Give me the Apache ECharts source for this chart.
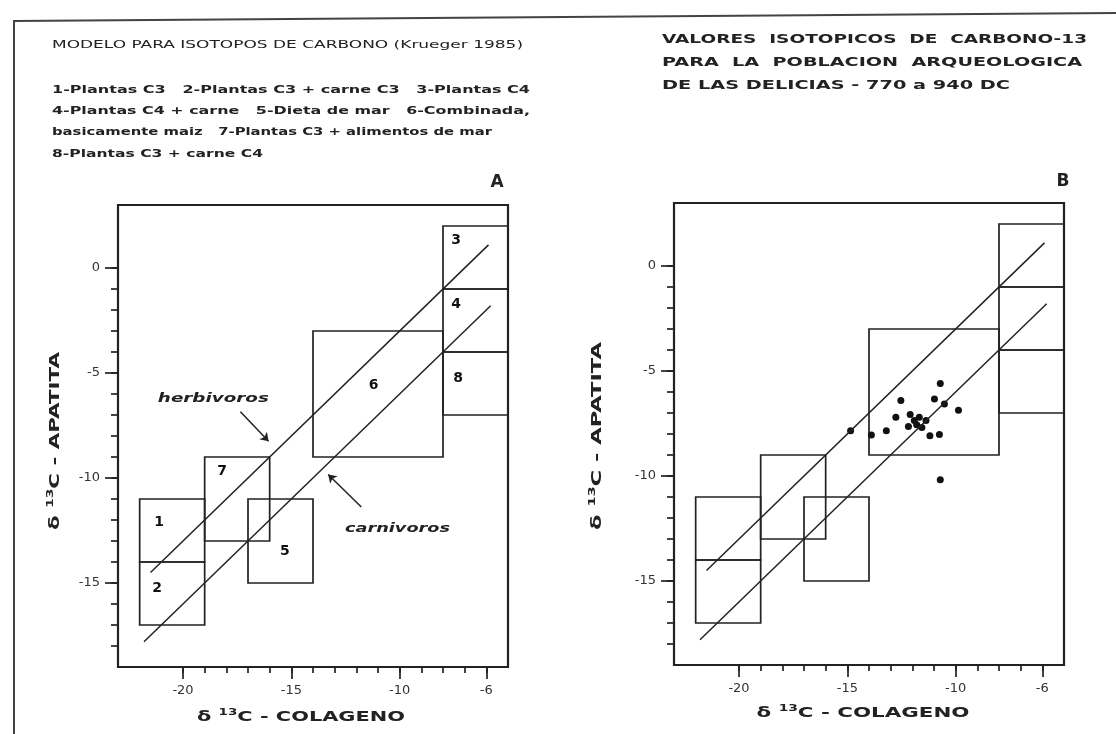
<!DOCTYPE html>
<html lang="es">
<head>
<meta charset="UTF-8">
<title>Isotopos de carbono</title>
<style>html,body{margin:0;padding:0;background:#fff}</style>
</head>
<body>
<div id="main" style="width:1116px;height:734px"></div>
<script src="https://cdn.jsdelivr.net/npm/echarts@6/dist/echarts.min.js"></script>
<script>
// model regions (Krueger 1985)
var boxNames = ['1', '2', '3', '4', '5', '6', '7', '8'];
var boxXMin = [-22, -22, -8, -8, -17, -14, -19, -8];
var boxXMax = [-19, -19, -5, -5, -14, -8, -16, -5];
var boxYMin = [-14, -17, -1, -4, -15, -9, -13, -7];
var boxYMax = [-11, -14, 2, -1, -11, -3, -9, -4];
var boxLabelX = [-21.1, -21.2, -7.4, -7.4, -15.3, -11.2, -18.2, -7.3];
var boxLabelY = [-12.1, -15.25, 1.3, -1.75, -13.5, -5.6, -9.7, -5.25];

// diet lines
var herbX = [-21.5, -5.9];
var herbY = [-14.5, 1.1];
var carnX = [-21.8, -5.8];
var carnY = [-17.8, -1.8];

// notes + arrows (panel A)
var noteText = ['herbivoros', 'carnivoros'];
var noteX = [-18.6, -10.1];
var noteY = [-6.25, -12.4];
var arrowFromX = [-17.35, -11.77];
var arrowFromY = [-6.85, -11.38];
var arrowToX = [-16.05, -13.3];
var arrowToY = [-8.25, -9.83];

// Las Delicias samples (panel B)
var colageno = [-14.85, -13.89, -13.2, -12.76, -12.53, -12.1, -12.18, -11.91, -11.8, -11.68,
    -11.56, -11.37, -11.19, -10.98, -10.75, -10.71, -10.52, -9.87, -10.71];
var apatita = [-7.85, -8.05, -7.84, -7.2, -6.41, -7.07, -7.64, -7.36, -7.56, -7.2,
    -7.69, -7.36, -8.08, -6.33, -8.02, -5.59, -6.57, -6.87, -10.18];

// header texts
var titleA = 'MODELO PARA ISOTOPOS DE CARBONO (Krueger 1985)';
var legendLines = [
    '1-Plantas C3   2-Plantas C3 + carne C3   3-Plantas C4',
    '4-Plantas C4 + carne   5-Dieta de mar   6-Combinada,',
    'basicamente maiz   7-Plantas C3 + alimentos de mar',
    '8-Plantas C3 + carne C4'
];
var titleB = [
    'VALORES  ISOTOPICOS  DE  CARBONO-13',
    'PARA  LA  POBLACION  ARQUEOLOGICA',
    'DE LAS DELICIAS - 770 a 940 DC'
];

var ink = '#222';
var myChart = echarts.init(document.getElementById('main'));

// frame extents and tick ranges
var xMin = -23, xMax = -5, yMin = -19, yMax = 3;
var majorX = [-20, -6, 5], majorY = [-15, 0, 5];
var minorX = [-20, -6, 1], minorY = [-18, 0, 1];
var plotW = 390, plotH = 462;
var panels = [{left: 118, top: 205}, {left: 674, top: 203}];
var kx = plotW / (xMax - xMin), ky = plotH / (yMax - yMin);

var measure = document.createElement('canvas').getContext('2d');
function textWidth(str, font) {
    measure.font = font;
    return measure.measureText(str).width;
}
function stretched(str, x, y, width, font, extra) {
    var el = {
        type: 'text', x: x, y: y, scaleX: width / textWidth(str, font),
        style: {text: str, font: font, fill: ink, align: 'left', verticalAlign: 'middle'}
    };
    return Object.assign(el, extra || {});
}
// δ 13C - ... with a small raised 13
function isoTitle(rest, x, y, width, rotate) {
    var big = 'bold 14px "DejaVu Sans"', small = 'bold 9px "DejaVu Sans"';
    var w = textWidth('δ ', big) + textWidth('13', small) + textWidth('C - ' + rest, big);
    return {
        type: 'text', x: x, y: y, rotation: rotate ? Math.PI / 2 : 0, scaleX: width / w,
        style: {
            text: '{a|δ }{s|13}{a|C - ' + rest + '}',
            align: 'center', verticalAlign: 'middle', fill: ink,
            rich: {
                a: {font: big, fill: ink},
                s: {font: small, fill: ink, padding: [0, 0, 9, 0]}
            }
        }
    };
}

var grids = [], xAxes = [], yAxes = [];
var noAxis = {axisLine: {show: false, onZero: false}, splitLine: {show: false}};
// tick-only grid sitting on the frame, covering xr × yr
function tickAxes(p, gi, xr, yr, len, labels) {
    grids[gi] = {left: p.left + (xr[0] - xMin) * kx, top: p.top + (yMax - yr[1]) * ky,
        width: (xr[1] - xr[0]) * kx, height: (yr[1] - yr[0]) * ky};
    var lbl = {show: labels, fontSize: 13, color: '#333', fontFamily: 'DejaVu Sans'};
    xAxes[gi] = Object.assign({gridIndex: gi, type: 'value', min: xr[0], max: xr[1], interval: xr[2],
        offset: (yr[0] - yMin) * ky,
        axisTick: {length: len, lineStyle: {color: ink, width: 1.7}},
        axisLabel: Object.assign({margin: 17}, lbl)}, noAxis);
    yAxes[gi] = Object.assign({gridIndex: gi, type: 'value', min: yr[0], max: yr[1], interval: yr[2],
        offset: (xr[0] - xMin) * kx,
        axisTick: {length: len + 1, lineStyle: {color: ink, width: 1.7}},
        axisLabel: Object.assign({margin: 18}, lbl)}, noAxis);
}
panels.forEach(function(p, i) {
    grids[i] = {left: p.left, top: p.top, width: plotW, height: plotH, show: true,
        borderColor: ink, borderWidth: 2.2, backgroundColor: 'transparent'};
    xAxes[i] = Object.assign({gridIndex: i, type: 'value', min: xMin, max: xMax,
        axisTick: {show: false}, axisLabel: {show: false}}, noAxis);
    yAxes[i] = Object.assign({gridIndex: i, type: 'value', min: yMin, max: yMax,
        axisTick: {show: false}, axisLabel: {show: false}}, noAxis);
    tickAxes(p, 2 + i, minorX, minorY, 6, false);
    tickAxes(p, 4 + i, majorX, majorY, 12, true);
});

var boxRows = boxNames.map(function(n, i) {
    return [boxXMin[i], boxXMax[i], boxYMin[i], boxYMax[i]];
});
function boxSeries(gi) {
    return {
        type: 'custom', xAxisIndex: gi, yAxisIndex: gi, data: boxRows,
        encode: {x: [0, 1], y: [2, 3]}, silent: true,
        renderItem: function(params, api) {
            var a = api.coord([api.value(0), api.value(3)]);
            var b = api.coord([api.value(1), api.value(2)]);
            return {type: 'rect', shape: {x: a[0], y: a[1], width: b[0] - a[0], height: b[1] - a[1]},
                style: {fill: 'none', stroke: ink, lineWidth: 1.7}};
        }
    };
}
function dietLine(gi, xs, ys) {
    return {type: 'line', xAxisIndex: gi, yAxisIndex: gi, symbol: 'none', silent: true,
        lineStyle: {color: ink, width: 1.5},
        data: xs.map(function(x, i) { return [x, ys[i]]; })};
}

var series = [
    boxSeries(0), boxSeries(1),
    dietLine(0, herbX, herbY), dietLine(0, carnX, carnY),
    dietLine(1, herbX, herbY), dietLine(1, carnX, carnY),
    {
        type: 'scatter', xAxisIndex: 0, yAxisIndex: 0, symbolSize: 0, silent: true,
        label: {show: true, position: 'inside', formatter: '{b}', color: '#111',
            textBorderWidth: 0, opacity: 1,
            fontSize: 14, fontWeight: 'bold', fontFamily: 'DejaVu Sans'},
        data: boxNames.map(function(n, i) { return {name: n, value: [boxLabelX[i], boxLabelY[i]]}; })
    },
    {
        type: 'lines', coordinateSystem: 'cartesian2d', xAxisIndex: 0, yAxisIndex: 0, silent: true,
        symbol: ['none', 'arrow'], symbolSize: 8,
        lineStyle: {color: ink, width: 1.5, opacity: 1},
        data: arrowFromX.map(function(x, i) {
            return {coords: [[x, arrowFromY[i]], [arrowToX[i], arrowToY[i]]]};
        })
    },
    {
        type: 'scatter', xAxisIndex: 1, yAxisIndex: 1, symbolSize: 7, silent: true,
        itemStyle: {color: '#111', opacity: 1},
        data: colageno.map(function(x, i) { return [x, apatita[i]]; })
    }
];

var graphics = [
    {type: 'polyline', shape: {points: [[14, 760], [14, 21], [1116, 13]]},
        style: {stroke: '#444', lineWidth: 2, fill: 'none'}},
    stretched(titleA, 52, 45, 471, '11px "DejaVu Sans"'),
    stretched(legendLines[0], 52, 90, 478, 'bold 11px "DejaVu Sans"'),
    stretched(legendLines[1], 52, 111, 478, 'bold 11px "DejaVu Sans"'),
    stretched(legendLines[2], 52, 132, 440, 'bold 11px "DejaVu Sans"'),
    stretched(legendLines[3], 52, 154, 211, 'bold 11px "DejaVu Sans"'),
    stretched(titleB[0], 662, 40, 425, 'bold 12px "DejaVu Sans"'),
    stretched(titleB[1], 662, 63, 420, 'bold 12px "DejaVu Sans"'),
    stretched(titleB[2], 662, 86, 348, 'bold 12px "DejaVu Sans"'),
    {type: 'text', x: 497, y: 183, style: {text: 'A', font: 'bold 17px "DejaVu Sans"', fill: ink, align: 'center', verticalAlign: 'middle'}},
    {type: 'text', x: 1063, y: 182, style: {text: 'B', font: 'bold 17px "DejaVu Sans"', fill: ink, align: 'center', verticalAlign: 'middle'}},
    isoTitle('COLAGENO', 301, 717, 208, false),
    isoTitle('COLAGENO', 863, 713, 213, false),
    isoTitle('APATITA', 55, 441, 178, true),
    isoTitle('APATITA', 597, 436, 188, true)
];

myChart.setOption({
    backgroundColor: '#ffffff',
    animation: false,
    grid: grids,
    xAxis: xAxes,
    yAxis: yAxes,
    series: series,
    graphic: graphics
});

// notes placed through the panel A scales
var noteWidths = [111, 105];
noteText.forEach(function(t, i) {
    var pt = myChart.convertToPixel({xAxisIndex: 0, yAxisIndex: 0}, [noteX[i], noteY[i]]);
    var el = stretched(t, pt[0], pt[1], noteWidths[i], 'italic bold 12px "DejaVu Sans"');
    el.style.align = 'center';
    graphics.push(el);
});
myChart.setOption({graphic: graphics});

window.onresize = function() {
    myChart.resize();
};
</script>
</body>
</html>
